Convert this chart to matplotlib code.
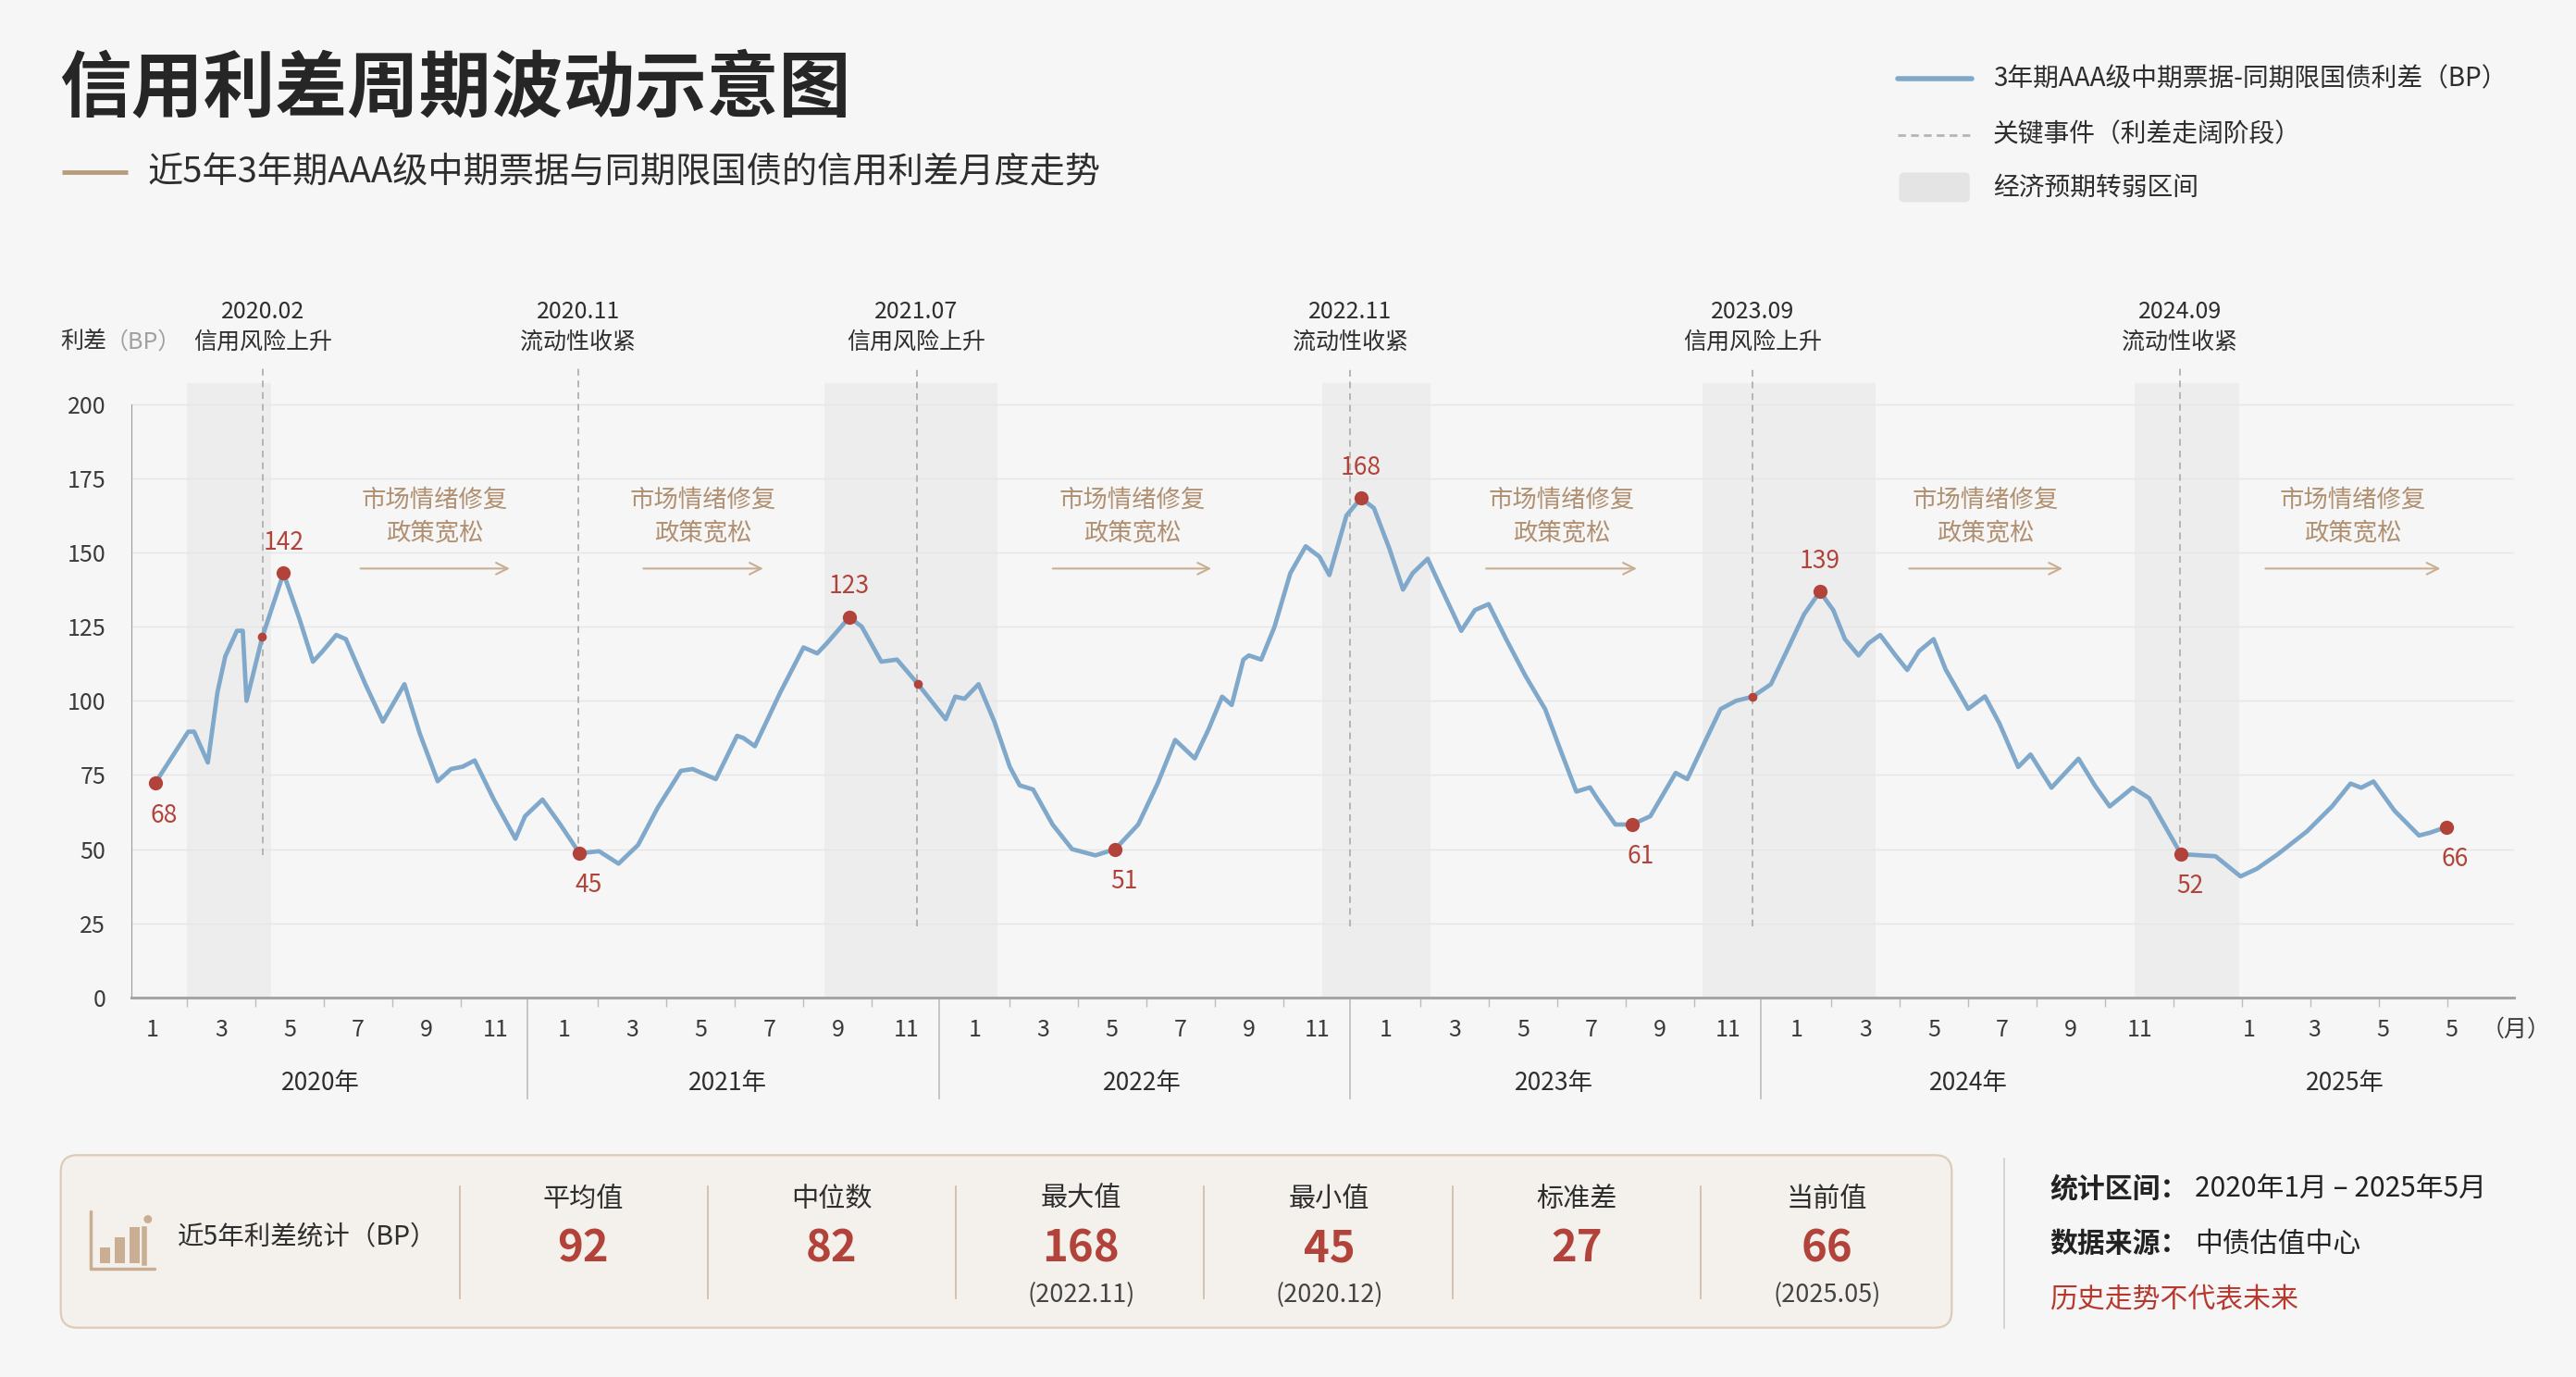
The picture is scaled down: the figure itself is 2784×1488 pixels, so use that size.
import numpy as np
import matplotlib
matplotlib.use('Agg')
import matplotlib.pyplot as plt
from matplotlib.patches import FancyBboxPatch, Rectangle, Circle
from matplotlib.transforms import blended_transform_factory

plt.rcParams['font.family'] = ['Noto Sans CJK SC', 'DejaVu Sans']

# ---- data (month index 0 = 2020-01) ----
months = [0.07, 1.04, 1.21, 1.61, 1.89, 2.12, 2.46, 2.63, 2.74, 3.20, 3.82, 4.28, 4.68, 4.96,
          5.36, 5.64, 6.21, 6.72, 7.35, 7.80, 8.32, 8.71, 9.05, 9.40, 9.96, 10.59, 10.87,
          11.38, 11.90, 12.46, 13.03, 13.60, 14.17, 14.74, 15.42, 15.76, 16.44, 17.06, 17.24,
          17.58, 18.32, 19.00, 19.40, 19.68, 20.34, 20.70, 21.27, 21.73, 22.33, 23.15, 23.43,
          23.70, 24.11, 24.57, 25.02, 25.31, 25.70, 26.27, 26.84, 27.52, 28.10, 28.77, 29.34,
          29.85, 30.42, 30.82, 31.22, 31.50, 31.84, 32.00, 32.36, 32.75, 33.21, 33.66, 34.06,
          34.35, 34.85, 35.27, 35.65, 36.10, 36.50, 36.78, 37.22, 37.58, 38.20, 38.60, 39.00,
          39.51, 40.08, 40.65, 41.10, 41.56, 41.96, 42.19, 42.70, 43.19, 43.72, 44.46, 44.80,
          45.31, 45.77, 46.22, 46.71, 47.24, 47.70, 48.21, 48.67, 49.06, 49.40, 49.80, 50.09,
          50.43, 50.88, 51.22, 51.56, 51.99, 52.34, 53.00, 53.49, 53.91, 54.46, 54.82, 55.43,
          56.22, 56.70, 57.13, 57.80, 58.28, 59.21, 60.22, 60.95, 61.43, 62.04, 62.89, 63.62,
          64.16, 64.47, 64.83, 65.44, 66.16, 66.47, 66.95]
spread = [72.2, 89.6, 89.6, 79.2, 102.8, 115.0, 123.6, 123.6, 100.0, 121.5, 143.0, 127.8, 113.2,
          116.7, 122.2, 120.8, 105.6, 93.0, 105.6, 88.9, 72.9, 77.0, 77.8, 79.9, 66.7, 53.5,
          61.1, 66.7, 58.3, 48.6, 49.3, 45.1, 51.4, 63.9, 76.4, 77.0, 73.6, 88.2, 87.5, 84.7,
          102.8, 118.0, 116.0, 119.4, 128.2, 125.0, 113.2, 113.9, 105.8, 93.8, 101.4, 100.7,
          105.6, 93.0, 77.8, 71.5, 70.1, 58.3, 50.0, 47.9, 50.0, 58.3, 72.2, 86.8, 80.6, 90.3,
          101.4, 98.6, 113.9, 115.3, 113.9, 125.0, 143.0, 152.1, 148.6, 142.4, 162.5, 168.3,
          165.0, 151.4, 137.5, 143.0, 147.9, 138.9, 123.6, 130.6, 132.6, 120.8, 108.3, 97.2,
          83.3, 69.4, 70.8, 66.7, 58.3, 58.3, 61.1, 75.7, 73.6, 86.1, 97.2, 100.0, 101.4, 105.6,
          116.7, 129.2, 136.8, 130.6, 120.8, 115.3, 119.4, 122.2, 115.3, 110.4, 116.7, 120.8,
          110.6, 97.3, 101.5, 92.4, 77.7, 81.9, 70.7, 80.5, 71.4, 64.4, 70.7, 67.2, 48.3, 47.6,
          40.8, 43.4, 48.3, 56.0, 64.4, 72.1, 70.7, 72.8, 63.0, 54.6, 55.5, 57.4]

key_months = [0.07, 3.82, 12.46, 20.34, 28.10, 35.27, 43.19, 48.67, 59.21, 66.95]
key_labels = ['68', '142', '45', '123', '51', '168', '61', '139', '52', '66']
key_above = [False, True, False, True, False, True, False, True, False, False]

event_months = [3.21, 12.42, 22.30, 34.96, 46.70, 59.18]
event_dates = ['2020.02', '2020.11', '2021.07', '2022.11', '2023.09', '2024.09']
event_names = ['信用风险上升', '流动性收紧', '信用风险上升', '流动性收紧', '信用风险上升', '流动性收紧']
event_floor = [48, 48, 24, 24, 24, 48]
risk_dots = [3.20, 22.33, 46.71]

weak_spans = [(1.0, 3.45), (19.6, 24.65), (34.15, 37.3), (45.25, 50.3), (57.85, 60.9)]
repair_spans = [(5.99, 10.5), (14.25, 17.9), (26.2, 30.98), (38.85, 43.4), (51.2, 55.83), (61.6, 66.86)]

years = ['2020年', '2021年', '2022年', '2023年', '2024年', '2025年']
year_centers = [4.9, 16.8, 28.9, 40.9, 53.0, 64.0]
year_breaks = [10.95, 22.95, 34.95, 46.95]
month_labels = ['1', '3', '5', '7', '9', '11']
pos_2025 = [61.2, 63.1, 65.1, 67.1]
labels_2025 = ['1', '3', '5', '5']

stat_names = ['平均值', '中位数', '最大值', '最小值', '标准差', '当前值']
stat_values = ['92', '82', '168', '45', '27', '66']
stat_notes = ['', '', '(2022.11)', '(2020.12)', '', '(2025.05)']

# ---- colours ----
BG = '#f6f6f6'
BLUE = '#80a8ca'
RED = '#b2433a'
TAN = '#b09070'
TAN_L = '#c9ae93'
DARK = '#2e2e2e'

fig = plt.figure(figsize=(27.84, 14.88), dpi=100)
fig.patch.set_facecolor(BG)

# pixel-like overlay for page furniture (1568 x 838 units)
bg = fig.add_axes([0, 0, 1, 1], zorder=0)
bg.set_xlim(0, 1568)
bg.set_ylim(838, 0)
bg.axis('off')

# title block
bg.text(36, 55, '信用利差周期波动示意图', fontsize=56, fontweight='bold', color='#262626', va='center', ha='left')
bg.plot([38, 78], [105, 105], color='#b89b7c', lw=3.5, solid_capstyle='butt')
bg.text(90, 105, '近5年3年期AAA级中期票据与同期限国债的信用利差月度走势', fontsize=27.5, color=DARK, va='center', ha='left')

# legend
bg.plot([1155, 1200], [48, 48], color=BLUE, lw=4, solid_capstyle='round')
bg.text(1213, 48, '3年期AAA级中期票据-同期限国债利差（BP）', fontsize=20, color=DARK, va='center')
bg.plot([1155, 1200], [82, 82], color='#b5b5b5', lw=2, ls=(0, (3, 2)))
bg.text(1213, 82, '关键事件（利差走阔阶段）', fontsize=20, color=DARK, va='center')
bg.add_patch(FancyBboxPatch((1156, 105), 43, 18, boxstyle='round,pad=0,rounding_size=3',
                            fc='#e4e4e4', ec='none'))
bg.text(1213, 114, '经济预期转弱区间', fontsize=20, color=DARK, va='center')

# y axis title
bg.text(37, 208, '利差', fontsize=18, color='#333333', va='center')
bg.text(64, 208, '（BP）', fontsize=18, color='#a0a0a0', va='center')

# ---- main chart ----
ax = fig.add_axes([80 / 1568, 1 - 607 / 838, 1450 / 1568, 374 / 838], zorder=2)
ax.patch.set_alpha(0)
ax.set_xlim(-0.62, 68.92)
ax.set_ylim(0, 207.2)

for a, b in weak_spans:
    ax.axvspan(a, b, color='#e8e8e8', alpha=0.6, lw=0, zorder=0)

ax.set_yticks(range(0, 201, 25))
ax.grid(axis='y', color='#e6e6e6', lw=1)
ax.set_axisbelow(True)
for s in ['top', 'right']:
    ax.spines[s].set_visible(False)
ax.spines['left'].set_bounds(0, 200)
ax.spines['left'].set_color('#9a9a9a')
ax.spines['bottom'].set_color('#a5a5a5')
ax.spines['bottom'].set_linewidth(2.2)
ax.tick_params(axis='y', length=0, pad=20, labelsize=18, labelcolor='#3a3a3a')

tick_pos = [12 * k + 2 * i for k in range(5) for i in range(6)] + pos_2025
tick_lab = month_labels * 5 + labels_2025
ax.set_xticks(tick_pos)
ax.set_xticklabels(tick_lab)
ax.tick_params(axis='x', length=0, pad=16, labelsize=18, labelcolor='#3a3a3a')
minor = [m for m in range(1, 68, 2) if m not in (11, 23, 35, 47)]
ax.set_xticks(minor, minor=True)
ax.tick_params(axis='x', which='minor', length=7, width=1, color='#bdbdbd')

trans = blended_transform_factory(ax.transData, ax.transAxes)
for xb in year_breaks:
    ax.plot([xb, xb], [0, -0.165], transform=trans, color='#bdbdbd', lw=1.2, clip_on=False)
for yc, yl in zip(year_centers, years):
    ax.text(yc, -0.139, yl, transform=trans, ha='center', va='center', fontsize=19, color=DARK)
ax.text(1.001, -0.053, '（月）', transform=ax.transAxes, ha='center', va='center', fontsize=18, color='#3a3a3a')

# event lines
for m, d, n, f in zip(event_months, event_dates, event_names, event_floor):
    ax.plot([m, m], [f, 213], color='#b0b0b0', lw=1.3, ls=(0, (4, 3)), clip_on=False, zorder=1)
    ax.text(m, 231, d, ha='center', va='center', fontsize=18, color=DARK, clip_on=False)
    ax.text(m, 221, n, ha='center', va='center', fontsize=18, color=DARK, clip_on=False)

# repair annotations
for a, b in repair_spans:
    c = (a + b) / 2
    ax.text(c, 167.9, '市场情绪修复', ha='center', va='center', fontsize=19, color=TAN)
    ax.text(c, 156.2, '政策宽松', ha='center', va='center', fontsize=19, color=TAN)
    ax.annotate('', xy=(b, 144.6), xytext=(a, 144.6),
                arrowprops=dict(arrowstyle='->,head_length=0.9,head_width=0.45', color=TAN_L, lw=1.5))

# series
mo = np.array(months)
sp = np.array(spread)
ax.plot(mo, sp, color=BLUE, lw=3.4, solid_joinstyle='round', solid_capstyle='round', zorder=3)

for m in risk_dots:
    i = np.argmin(np.abs(mo - m))
    ax.plot(mo[i], sp[i], 'o', color=RED, ms=7, mec='none', zorder=4)

for m, lab, up in zip(key_months, key_labels, key_above):
    i = np.argmin(np.abs(mo - m))
    ax.plot(mo[i], sp[i], 'o', color=RED, ms=11, mec='none', zorder=5)
    ax.annotate(lab, (mo[i], sp[i]), xytext=(0, 24) if up else (7, -25), textcoords='offset points',
                ha='center', va='center', fontsize=19, color=RED)

# ---- statistics panel ----
bg.add_patch(FancyBboxPatch((37, 703), 1151, 105, boxstyle='round,pad=0,rounding_size=10',
                            fc='#f4f0ec', ec='#dccbb9', lw=1.6))
# icon
bg.plot([55, 55, 94], [737, 772, 772], color=TAN_L, lw=2.5, solid_capstyle='round')
for x0, h in zip([61, 70, 79], [10, 16, 22]):
    bg.add_patch(Rectangle((x0, 769 - h), 6, h, fc=TAN_L, ec='none'))
bg.add_patch(Circle((90, 742), 2.5, fc=TAN_L, ec='none'))
bg.plot([88, 88], [748, 769], color=TAN_L, lw=4)
bg.text(108, 753, '近5年利差统计（BP）', fontsize=20.5, color=DARK, va='center')

cols = [355, 506, 658, 809, 960, 1112]
for xd in [280, 431, 582, 733, 884, 1035]:
    bg.plot([xd, xd], [722, 790], color='#cdbba8', lw=1.2)
for xc, nm, v, nt in zip(cols, stat_names, stat_values, stat_notes):
    bg.text(xc, 730, nm, ha='center', va='center', fontsize=21, color=DARK)
    bg.text(xc, 760, v, ha='center', va='center', fontsize=34, fontweight='bold', color=RED)
    if nt:
        bg.text(xc, 788, nt, ha='center', va='center', fontsize=19.5, color='#444444')

bg.plot([1220, 1220], [705, 808], color='#cfcfcf', lw=1.2)
bg.text(1248, 724, '统计区间：', fontsize=21.5, fontweight='bold', color='#222222', va='center')
bg.text(1336, 724, '2020年1月 – 2025年5月', fontsize=21.5, color='#222222', va='center')
bg.text(1248, 757, '数据来源：', fontsize=21.5, fontweight='bold', color='#222222', va='center')
bg.text(1336, 757, '中债估值中心', fontsize=21.5, color='#222222', va='center')
bg.text(1248, 791, '历史走势不代表未来', fontsize=21.5, color='#b8382e', va='center')

fig.savefig('out.png', dpi=100, facecolor=BG)
